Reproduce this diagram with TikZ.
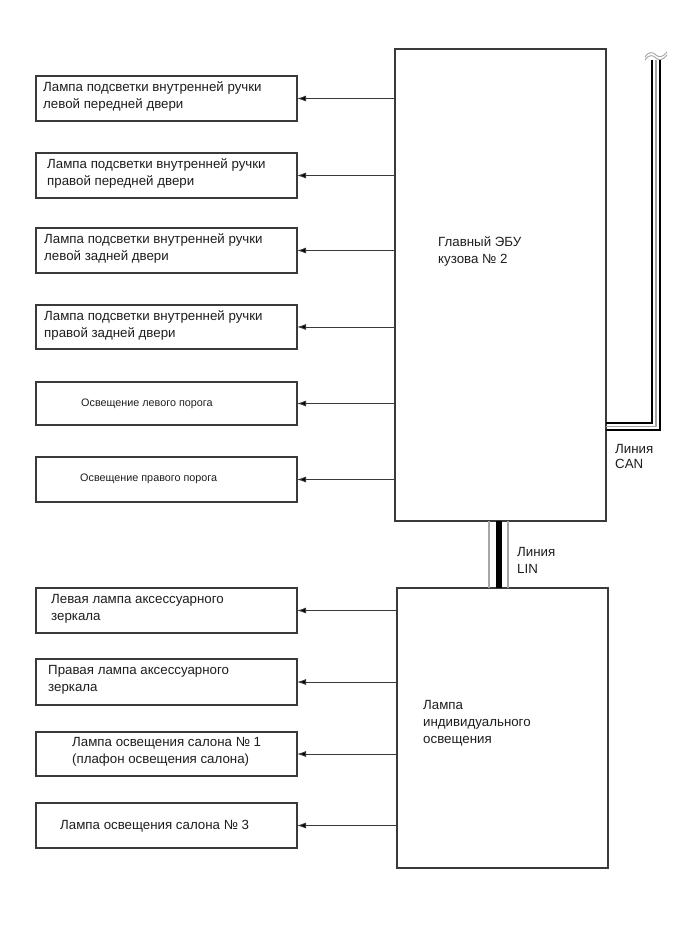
\documentclass[tikz,border=0pt]{standalone}
\usepackage{fontspec}
\setmainfont{Liberation Sans}
\usetikzlibrary{arrows.meta}
\definecolor{edge}{HTML}{3A3A3A}
\definecolor{ink}{HTML}{1E1E1E}
\begin{document}
\begin{tikzpicture}[x=1pt,y=-1pt,
  box/.style={draw=edge,line width=1.1pt,minimum width=261pt,inner sep=0pt,outer sep=0pt},
  big/.style={draw=edge,line width=1.1pt,inner sep=0pt,outer sep=0pt},
  lbl/.style={anchor=west,align=left,inner sep=0pt,text=ink,font=\fontsize{13.3}{17}\selectfont},
  slbl/.style={anchor=west,align=left,inner sep=0pt,text=ink,font=\fontsize{10.8}{13}\selectfont},
  arr/.style={draw=edge,line width=0.9pt,-{Latex[length=9pt,width=6pt,fill=black]}},
  canb/.style={draw=black,line width=2.2pt},
  cang/.style={draw=gray!70,line width=1.5pt},
]
\useasboundingbox (0,0) rectangle (691,952);
\fill[white] (0,0) rectangle (691,952);

% main units
\node[big,minimum width=211pt,minimum height=472pt] (ecu) at (500.5,285) {};
\node[big,minimum width=211pt,minimum height=280pt] (lamp) at (502.5,728) {};
\node[lbl] (ecut) at (438,251) {Главный ЭБУ\\кузова № 2};
\node[lbl] (lampt) at (423,723) {Лампа\\индивидуального\\освещения};

% left boxes
\node[box,minimum height=45pt] (b1) at (166.5,98.5) {};
\node[box,minimum height=45pt] (b2) at (166.5,175.5) {};
\node[box,minimum height=45pt] (b3) at (166.5,250.5) {};
\node[box,minimum height=44pt] (b4) at (166.5,327) {};
\node[box,minimum height=43pt] (b5) at (166.5,403.5) {};
\node[box,minimum height=45pt] (b6) at (166.5,479.5) {};
\node[box,minimum height=45pt] (b7) at (166.5,610.5) {};
\node[box,minimum height=46pt] (b8) at (166.5,682) {};
\node[box,minimum height=44pt] (b9) at (166.5,754) {};
\node[box,minimum height=45pt] (b10) at (166.5,825.5) {};

\node[lbl] (t1) at (43,96.5) {Лампа подсветки внутренней ручки\\левой передней двери};
\node[lbl] (t2) at (47,173.5) {Лампа подсветки внутренней ручки\\правой передней двери};
\node[lbl] (t3) at (44,248.5) {Лампа подсветки внутренней ручки\\левой задней двери};
\node[lbl] (t4) at (44,325) {Лампа подсветки внутренней ручки\\правой задней двери};
\node[slbl] (t5) at (81,404) {Освещение левого порога};
\node[slbl] (t6) at (80,479) {Освещение правого порога};
\node[lbl] (t7) at (51,608.5) {Левая лампа аксессуарного\\зеркала};
\node[lbl] (t8) at (48,680) {Правая лампа аксессуарного\\зеркала};
\node[lbl] (t9) at (72,752) {Лампа освещения салона № 1\\(плафон освещения салона)};
\node[lbl] (t10) at (60,826) {Лампа освещения салона № 3};

% arrows
\foreach \b in {b1,b2,b3,b4,b5,b6}{\draw[arr] (ecu.west |- \b.east) -- (\b.east);}
\foreach \b in {b7,b8,b9,b10}{\draw[arr] (lamp.west |- \b.east) -- (\b.east);}

% LIN line
\draw[cang,line width=1.2pt] (ecu.south -| 489,0) -- (lamp.north -| 489,0);
\draw[cang,line width=1.2pt] (ecu.south -| 508,0) -- (lamp.north -| 508,0);
\draw[draw=black,line width=6pt] (ecu.south -| 498.5,0) -- (lamp.north -| 498.5,0);
\node[lbl] (lin) at (517,560) {Линия\\LIN};

% CAN line
\coordinate (canend) at (656,60);
\draw[canb] (ecu.east |- 0,423) -- (652,423) -- (652,60);
\draw[cang] (ecu.east |- 0,426.7) -- (656,426.7) -- (canend);
\draw[canb] (ecu.east |- 0,430) -- (660,430) -- (660,60);
\draw[gray!70,line width=0.9pt] (645,57) .. controls (649,51) and (653,52) .. (656,55) .. controls (659,58) and (663,57) .. (667,52);
\draw[gray!70,line width=0.9pt] (645,60) .. controls (649,54) and (653,55) .. (656,58) .. controls (659,61) and (663,60) .. (667,55);
\node[lbl,font=\fontsize{13.3}{15}\selectfont] (can) at (615,456) {Линия\\CAN};
\end{tikzpicture}
\end{document}
